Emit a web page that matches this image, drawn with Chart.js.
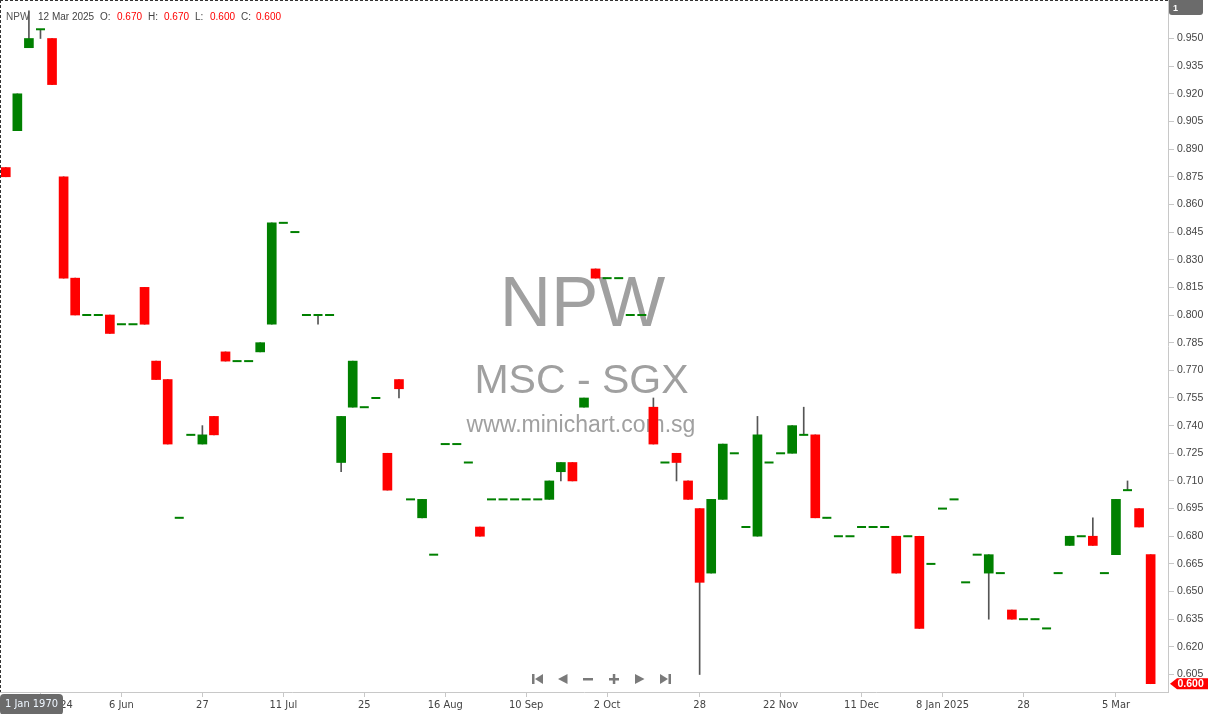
<!DOCTYPE html>
<html>
<head>
<meta charset="utf-8">
<script src="https://cdn.jsdelivr.net/npm/chart.js@4.4.1/dist/chart.umd.min.js"></script>
<style>
html,body{margin:0;padding:0;background:#fff;overflow:hidden}
#wrap{position:relative;width:1208px;height:714px}
</style>
</head>
<body>
<div id="wrap"><canvas id="c" width="1208" height="714"></canvas></div>
<script>
// ---- data ----
const dates = ["13 May 2024","14 May 2024","15 May 2024","16 May 2024","17 May 2024","20 May 2024","21 May 2024","23 May 2024","27 May 2024","31 May 2024",
"6 Jun 2024","7 Jun 2024","11 Jun 2024","12 Jun 2024","14 Jun 2024","18 Jun 2024","21 Jun 2024","27 Jun 2024","28 Jun 2024","1 Jul 2024",
"2 Jul 2024","4 Jul 2024","5 Jul 2024","9 Jul 2024","11 Jul 2024","12 Jul 2024","16 Jul 2024","17 Jul 2024","19 Jul 2024","22 Jul 2024",
"24 Jul 2024","25 Jul 2024","29 Jul 2024","31 Jul 2024","1 Aug 2024","5 Aug 2024","7 Aug 2024","13 Aug 2024","16 Aug 2024","19 Aug 2024",
"21 Aug 2024","23 Aug 2024","27 Aug 2024","29 Aug 2024","3 Sep 2024","10 Sep 2024","12 Sep 2024","16 Sep 2024","18 Sep 2024","20 Sep 2024",
"24 Sep 2024","26 Sep 2024","2 Oct 2024","4 Oct 2024","8 Oct 2024","10 Oct 2024","14 Oct 2024","17 Oct 2024","21 Oct 2024","24 Oct 2024",
"28 Oct 2024","29 Oct 2024","1 Nov 2024","5 Nov 2024","8 Nov 2024","12 Nov 2024","15 Nov 2024","22 Nov 2024","25 Nov 2024","27 Nov 2024",
"29 Nov 2024","3 Dec 2024","5 Dec 2024","9 Dec 2024","11 Dec 2024","13 Dec 2024","17 Dec 2024","20 Dec 2024","24 Dec 2024","27 Dec 2024",
"31 Dec 2024","8 Jan 2025","10 Jan 2025","14 Jan 2025","17 Jan 2025","21 Jan 2025","23 Jan 2025","24 Jan 2025","28 Jan 2025","3 Feb 2025",
"7 Feb 2025","12 Feb 2025","14 Feb 2025","19 Feb 2025","21 Feb 2025","25 Feb 2025","5 Mar 2025","7 Mar 2025","10 Mar 2025","12 Mar 2025"];

const opens = [0.880,0.900,0.945,0.955,0.950,0.875,0.820,0.800,0.800,0.800,
0.795,0.795,0.815,0.775,0.765,0.690,0.735,0.730,0.745,0.780,
0.775,0.775,0.780,0.795,0.850,0.845,0.800,0.800,0.800,0.720,
0.750,0.750,0.755,0.725,0.765,0.700,0.690,0.670,0.730,0.730,
0.720,0.685,0.700,0.700,0.700,0.700,0.700,0.700,0.715,0.720,
0.750,0.825,0.820,0.820,0.800,0.800,0.750,0.720,0.725,0.710,
0.695,0.660,0.700,0.725,0.685,0.680,0.720,0.725,0.725,0.735,
0.735,0.690,0.680,0.680,0.685,0.685,0.685,0.680,0.680,0.680,
0.665,0.695,0.700,0.655,0.670,0.660,0.660,0.640,0.635,0.635,
0.630,0.660,0.675,0.680,0.680,0.660,0.670,0.705,0.695,0.670];

const highs = [0.880,0.920,0.965,0.955,0.950,0.875,0.820,0.800,0.800,0.800,
0.795,0.795,0.815,0.775,0.765,0.690,0.735,0.740,0.745,0.780,
0.775,0.775,0.785,0.850,0.850,0.845,0.800,0.800,0.800,0.745,
0.775,0.750,0.755,0.725,0.765,0.700,0.700,0.670,0.730,0.730,
0.720,0.685,0.700,0.700,0.700,0.700,0.700,0.710,0.720,0.720,
0.755,0.825,0.820,0.820,0.800,0.800,0.755,0.720,0.725,0.710,
0.695,0.700,0.730,0.725,0.685,0.745,0.720,0.725,0.740,0.750,
0.735,0.690,0.680,0.680,0.685,0.685,0.685,0.680,0.680,0.680,
0.665,0.695,0.700,0.655,0.670,0.670,0.660,0.640,0.635,0.635,
0.630,0.660,0.680,0.680,0.690,0.660,0.700,0.710,0.695,0.670];

const lows = [0.875,0.900,0.945,0.950,0.925,0.820,0.800,0.800,0.800,0.790,
0.795,0.795,0.795,0.765,0.730,0.690,0.735,0.730,0.735,0.775,
0.775,0.775,0.780,0.795,0.850,0.845,0.800,0.795,0.800,0.715,
0.750,0.750,0.755,0.705,0.755,0.700,0.690,0.670,0.730,0.730,
0.720,0.680,0.700,0.700,0.700,0.700,0.700,0.700,0.710,0.710,
0.750,0.820,0.820,0.820,0.800,0.800,0.730,0.720,0.710,0.700,
0.605,0.660,0.700,0.725,0.685,0.680,0.720,0.725,0.725,0.735,
0.690,0.690,0.680,0.680,0.685,0.685,0.685,0.660,0.680,0.630,
0.665,0.695,0.700,0.655,0.670,0.635,0.660,0.635,0.635,0.635,
0.630,0.660,0.675,0.680,0.675,0.660,0.670,0.705,0.685,0.600];

const closes = [0.875,0.920,0.950,0.955,0.925,0.820,0.800,0.800,0.800,0.790,
0.795,0.795,0.795,0.765,0.730,0.690,0.735,0.735,0.735,0.775,
0.775,0.775,0.785,0.850,0.850,0.845,0.800,0.800,0.800,0.745,
0.775,0.750,0.755,0.705,0.760,0.700,0.700,0.670,0.730,0.730,
0.720,0.680,0.700,0.700,0.700,0.700,0.700,0.710,0.720,0.710,
0.755,0.820,0.820,0.820,0.800,0.800,0.730,0.720,0.720,0.700,
0.655,0.700,0.730,0.725,0.685,0.735,0.720,0.725,0.740,0.735,
0.690,0.690,0.680,0.680,0.685,0.685,0.685,0.660,0.680,0.630,
0.665,0.695,0.700,0.655,0.670,0.670,0.660,0.635,0.635,0.635,
0.630,0.660,0.680,0.680,0.675,0.660,0.700,0.705,0.685,0.600];

const tickIdx  = [3,10,17,24,31,38,45,52,60,67,74,81,88,96];
const tickText = ["16 May 2024","6 Jun","27","11 Jul","25","16 Aug","10 Sep","2 Oct","28","22 Nov","11 Dec","8 Jan 2025","28","5 Mar"];
const yTicks = [0.605,0.620,0.635,0.650,0.665,0.680,0.695,0.710,0.725,0.740,0.755,0.770,0.785,0.800,0.815,0.830,0.845,0.860,0.875,0.890,0.905,0.920,0.935,0.950];

const symbol = "NPW";
const exchange = "MSC - SGX";
const site = "www.minichart.com.sg";
const lastDate = "12 Mar 2025";

// ---- styles ----
const UP = '#008000', DOWN = '#ff0000', WICK = '#555555';
const NARROW = '"Liberation Sans Narrow","Arial Narrow","DejaVu Sans Condensed",sans-serif';
const SANS = '"Liberation Sans",Arial,sans-serif';

const n = opens.length;
const bodyData = [], bodyColors = [], wickData = [], dojiData = [];
for (let i = 0; i < n; i++) {
  const o = opens[i], c = closes[i];
  if (o === c) {
    bodyData.push({x: i, y: null});
    dojiData.push({x: i, y: c});
  } else {
    bodyData.push({x: i, y: [o, c]});
    dojiData.push({x: i, y: null});
  }
  bodyColors.push(c >= o ? UP : DOWN);
  wickData.push({x: i, y: [lows[i], highs[i]]});
}

const deco = {
  id: 'deco',
  beforeDatasetsDraw(chart) {
    const ctx = chart.ctx;
    ctx.save();
    ctx.fillStyle = '#a0a0a0';
    ctx.textAlign = 'center';
    ctx.textBaseline = 'alphabetic';
    ctx.font = '71px ' + SANS;
    ctx.fillText(symbol, 582.5, 326);
    ctx.font = '41px ' + SANS;
    ctx.fillText(exchange, 581.5, 393);
    ctx.font = '23px ' + SANS;
    ctx.fillText(site, 581, 432);
    ctx.fillStyle = '#7a7a7a';
    const cy = 679, h = 5;
    ctx.fillRect(532, cy - h, 2.5, 2 * h);
    ctx.beginPath(); ctx.moveTo(543, cy - h); ctx.lineTo(543, cy + h); ctx.lineTo(535, cy); ctx.closePath(); ctx.fill();
    ctx.beginPath(); ctx.moveTo(567.5, cy - h); ctx.lineTo(567.5, cy + h); ctx.lineTo(558, cy); ctx.closePath(); ctx.fill();
    ctx.fillRect(583, cy - 1, 10, 2.5);
    ctx.fillRect(609, cy - 1, 10, 2.5);
    ctx.fillRect(612.8, cy - h, 2.5, 2 * h);
    ctx.beginPath(); ctx.moveTo(635, cy - h); ctx.lineTo(635, cy + h); ctx.lineTo(644.5, cy); ctx.closePath(); ctx.fill();
    ctx.beginPath(); ctx.moveTo(660, cy - h); ctx.lineTo(660, cy + h); ctx.lineTo(668, cy); ctx.closePath(); ctx.fill();
    ctx.fillRect(668.5, cy - h, 2.5, 2 * h);
    ctx.restore();
  },
  afterDraw(chart) {
    const ctx = chart.ctx;
    const area = chart.chartArea;
    ctx.save();
    ctx.strokeStyle = '#333';
    ctx.lineWidth = 1;
    ctx.setLineDash([3, 2]);
    ctx.beginPath();
    ctx.moveTo(0, 0.5); ctx.lineTo(area.right, 0.5);
    ctx.moveTo(0.5, 0); ctx.lineTo(0.5, area.bottom);
    ctx.stroke();
    ctx.setLineDash([]);
    const i = n - 1;
    ctx.font = '10px ' + SANS;
    ctx.textBaseline = 'alphabetic';
    ctx.textAlign = 'left';
    const parts = [
      [symbol, 6, '#555'], [lastDate, 38, '#444'],
      ['O:', 100, '#444'], [opens[i].toFixed(3), 117, DOWN],
      ['H:', 148, '#444'], [highs[i].toFixed(3), 164, DOWN],
      ['L:', 195, '#444'], [lows[i].toFixed(3), 210, DOWN],
      ['C:', 241, '#444'], [closes[i].toFixed(3), 256, DOWN]
    ];
    parts.forEach(p => { ctx.fillStyle = p[2]; ctx.fillText(p[0], p[1], 19.5); });
    ctx.fillStyle = '#6b6b6b';
    ctx.beginPath();
    ctx.roundRect(1169, -3, 34, 18, 3);
    ctx.fill();
    ctx.fillStyle = '#fff';
    ctx.font = 'bold 9px ' + SANS;
    ctx.fillText('1', 1173, 11);
    ctx.fillStyle = '#6b6b6b';
    ctx.beginPath();
    ctx.roundRect(0, 694, 63, 21, 4);
    ctx.fill();
    ctx.fillStyle = '#eef6ff';
    ctx.font = '11px ' + NARROW;
    ctx.textAlign = 'center';
    ctx.textBaseline = 'middle';
    ctx.fillText('1 Jan 1970', 31.5, 704);
    const py = chart.scales.y.getPixelForValue(closes[i]);
    ctx.fillStyle = '#ff0000';
    ctx.beginPath();
    ctx.moveTo(1170, py);
    ctx.lineTo(1177, py - 5.5);
    ctx.lineTo(1208, py - 5.5);
    ctx.lineTo(1208, py + 5.5);
    ctx.lineTo(1177, py + 5.5);
    ctx.closePath();
    ctx.fill();
    ctx.fillStyle = '#fff';
    ctx.font = 'bold 10.5px ' + SANS;
    ctx.textAlign = 'left';
    ctx.fillText(closes[i].toFixed(3), 1177.5, py + 0.5);
    ctx.restore();
  }
};

new Chart(document.getElementById('c'), {
  type: 'bar',
  data: {
    datasets: [
      {
        label: 'body', data: bodyData, backgroundColor: bodyColors,
        barThickness: 9, grouped: false, order: 1, borderWidth: 0
      },
      {
        type: 'line', label: 'doji', data: dojiData, showLine: false,
        pointStyle: 'line', pointRadius: 4.5, pointBorderWidth: 2,
        pointBorderColor: UP, pointBackgroundColor: UP, order: 0
      },
      {
        label: 'wick', data: wickData, backgroundColor: WICK,
        barThickness: 1, grouped: false, order: 2, borderWidth: 0
      }
    ]
  },
  options: {
    responsive: false,
    devicePixelRatio: 1,
    animation: false,
    layout: {padding: 0, autoPadding: false},
    plugins: {legend: {display: false}, tooltip: {enabled: false}},
    scales: {
      x: {
        type: 'linear', position: 'bottom', min: -0.5, max: 100.5, offset: false,
        afterBuildTicks: s => { s.ticks = tickIdx.map(v => ({value: v})); },
        afterFit: s => { s.height = 22; s.paddingLeft = 0; s.paddingRight = 0; },
        grid: {drawOnChartArea: false, drawTicks: true, tickLength: 5, color: '#c8c8c8', offset: false},
        border: {color: '#c8c8c8'},
        ticks: {
          autoSkip: false, maxRotation: 0, padding: 2, color: '#444',
          font: {family: NARROW, size: 11},
          callback: v => { const k = tickIdx.indexOf(v); return k >= 0 ? tickText[k] : ''; }
        }
      },
      y: {
        type: 'linear', position: 'right', min: 0.59551, max: 0.97088,
        afterBuildTicks: s => { s.ticks = yTicks.map(v => ({value: v})); },
        afterFit: s => { s.width = 40; s.paddingTop = 0; s.paddingBottom = 0; },
        grid: {drawOnChartArea: false, drawTicks: true, tickLength: 6, color: '#c8c8c8'},
        border: {color: '#c8c8c8'},
        ticks: {
          padding: 3, color: '#444',
          font: {family: SANS, size: 10.5},
          callback: v => Number(v).toFixed(3)
        }
      }
    }
  },
  plugins: [deco]
});
</script>
</body>
</html>
